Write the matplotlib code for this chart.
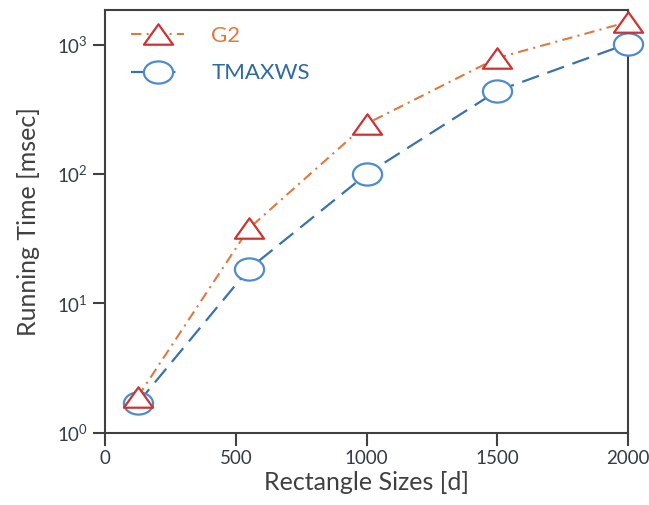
import matplotlib
matplotlib.use("Agg")
import matplotlib.pyplot as plt
from matplotlib.path import Path
from matplotlib.transforms import Affine2D
from matplotlib.ticker import LogLocator, NullLocator

plt.rcParams['font.family'] = ['Lato', 'DejaVu Sans']
plt.rcParams['mathtext.default'] = 'regular'

# data
sizes = [125, 550, 1000, 1500, 2000]
g2_ms = [1.9, 38, 245, 790, 1500]
tmaxws_ms = [1.7, 18.5, 100, 440, 1020]
x_ticks = [0, 500, 1000, 1500, 2000]

# flattened markers (chart was stretched)
tri = Path([(0, 0.7), (-1, -0.7), (1, -0.7), (0, 0.7)],
           [Path.MOVETO, Path.LINETO, Path.LINETO, Path.CLOSEPOLY])
circ = Path.unit_circle().transformed(Affine2D().scale(1, 0.76))

fig = plt.figure(figsize=(6.49, 5.05), dpi=100)
ax = fig.add_axes([0.162, 0.143, 0.806, 0.837])

ax.plot(sizes, g2_ms, color='#dd7a3e', lw=1.5, dashes=(5, 2.5, 1, 2.5),
        marker=tri, ms=21, mfc='white', mec='#cc3333', mew=1.6,
        label='G2', zorder=4, clip_on=False)
ax.plot(sizes, tmaxws_ms, color='#3a72aa', lw=1.6, dashes=(8, 4),
        marker=circ, ms=21, mfc='white', mec='#4d8ccc', mew=1.6,
        label='TMAXWS', zorder=3, clip_on=False)

ax.set_yscale('log')
ax.set_xlim(0, 2000)
ax.set_ylim(1, 1850)
ax.set_xticks(x_ticks)
ax.yaxis.set_major_locator(LogLocator(base=10, numticks=10))
ax.yaxis.set_minor_locator(NullLocator())

for s in ax.spines.values():
    s.set_color('#404040')
    s.set_linewidth(1.5)
ax.tick_params(axis='both', length=9, width=1.5, color='#404040',
               labelsize=13.5, labelcolor='#333a48')

ax.set_xlabel('Rectangle Sizes [d]', fontsize=18, color='#404040', labelpad=3)
ax.set_ylabel('Running Time [msec]', fontsize=18, color='#404040', labelpad=12)

leg = ax.legend(loc='upper left', frameon=False, fontsize=16,
                handlelength=2.4, labelspacing=0.8, handletextpad=1.2,
                borderaxespad=0.3, bbox_to_anchor=(0.02, 1.0))
leg.get_texts()[0].set_color('#e07a3a')
leg.get_texts()[1].set_color('#2e6aa2')

fig.savefig('out.png', dpi=100)
